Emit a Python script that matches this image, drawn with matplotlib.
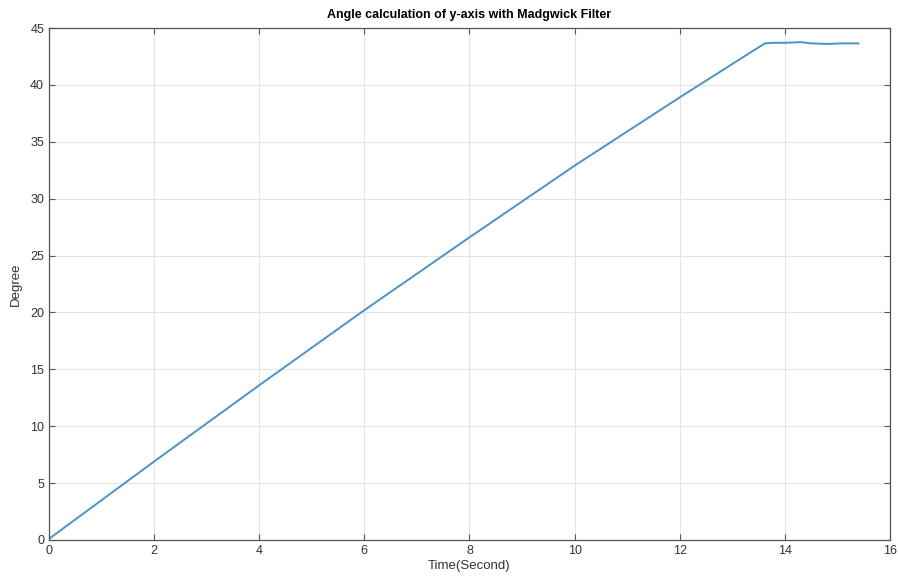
import matplotlib.pyplot as plt
import numpy as np

plt.rcParams['font.family'] = ['Liberation Sans', 'DejaVu Sans']

# values (ramp then plateau)
time_s = [0, 2, 4, 6, 8, 10, 12, 13.62, 13.8, 14.0, 14.3, 14.5, 14.8, 15.1, 15.4]
angle_deg = [0.1, 6.9, 13.6, 20.2, 26.6, 32.9, 38.9, 43.65, 43.7, 43.7, 43.76, 43.65, 43.6, 43.65, 43.65]

x_ticks = np.arange(0, 17, 2)
y_ticks = np.arange(0, 46, 5)

fig = plt.figure(figsize=(8.98, 5.81), dpi=100)
ax = fig.add_axes([0.0546, 0.0706, 0.9364, 0.8812])

ax.plot(time_s, angle_deg, color='#4a94c4', linewidth=1.4)

ax.set_xlim(0, 16)
ax.set_ylim(0, 45)
ax.set_xticks(x_ticks)
ax.set_yticks(y_ticks)
ax.grid(True, color='#e3e3e3', linewidth=0.8)
ax.set_axisbelow(True)

for s in ax.spines.values():
    s.set_color('#555555')
    s.set_linewidth(0.9)
ax.tick_params(direction='in', length=4, width=0.8, color='#555555',
               labelsize=9, labelcolor='#333333', top=True, right=True)

ax.set_xlabel('Time(Second)', fontsize=9.5, color='#333333', labelpad=2)
ax.set_ylabel('Degree', fontsize=9.5, color='#333333', labelpad=6)
ax.set_title('Angle calculation of y-axis with Madgwick Filter',
             fontsize=9, fontweight='bold', pad=7)

fig.savefig('out.png', dpi=100)
